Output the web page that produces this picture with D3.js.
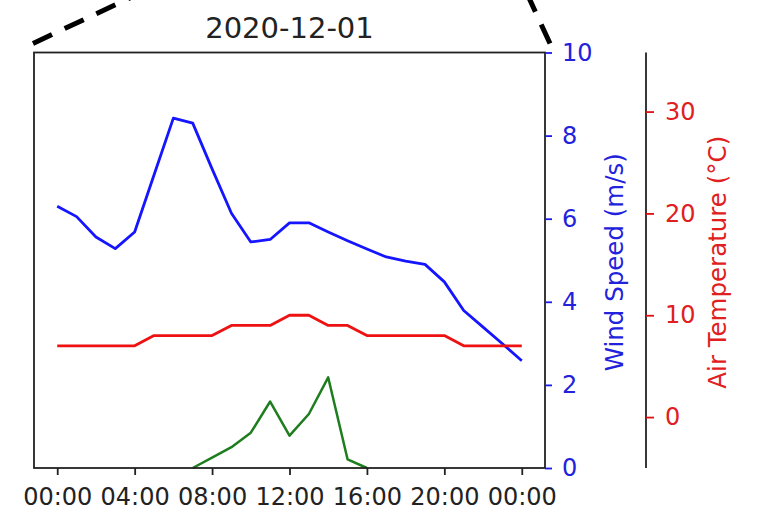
<!DOCTYPE html>
<html>
<head>
<meta charset="utf-8">
<script src="https://cdn.jsdelivr.net/npm/d3@7"></script>
<style>
  html, body { margin: 0; padding: 0; background: #fff; }
  svg { display: block; font-family: "DejaVu Sans", sans-serif; }
</style>
</head>
<body>
<svg id="chart" width="781" height="519"></svg>
<script>
// ---- data ----
const title = "2020-12-01";
const hours = [0,1,2,3,4,5,6,7,8,9,10,11,12,13,14,15,16,17,18,19,20,21,22,23,24];
const windSpeed = [6.3, 6.05, 5.56, 5.28, 5.68, 7.05, 8.42, 8.3, 7.2, 6.13, 5.44, 5.5, 5.9, 5.9, 5.68, 5.47, 5.27, 5.08, 4.98, 4.9, 4.48, 3.79, 3.39, 2.99, 2.58];
const airTemp = [7, 7, 7, 7, 7, 8, 8, 8, 8, 9, 9, 9, 10, 10, 9, 9, 8, 8, 8, 8, 8, 7, 7, 7, 7];
const greenSeries = [null, null, null, null, null, null, null, 0, 0.25, 0.5, 0.85, 1.6, 0.78, 1.3, 2.18, 0.21, 0, null, null, null, null, null, null, null, null];
const xTickHours = [0, 4, 8, 12, 16, 20, 24];
const windTicks = [0, 2, 4, 6, 8, 10];
const tempTicks = [0, 10, 20, 30];
const windLabel = "Wind Speed (m/s)";
const tempLabel = "Air Temperature (°C)";

// ---- layout ----
const svg = d3.select("#chart");
const plot = { left: 34, right: 545, top: 52.5, bottom: 468 };
const tempAxisX = 646;
const day0 = new Date(2020, 11, 1, 0, 0);
const toDate = h => new Date(day0.getTime() + h * 3600e3);
const pad = 1.2; // hours of margin (5%)

const x = d3.scaleTime().domain([toDate(-pad), toDate(24 + pad)]).range([plot.left, plot.right]);
const yWind = d3.scaleLinear().domain([0, 10]).range([plot.bottom, plot.top]);
const yTemp = d3.scaleLinear().domain([-5, 35.8]).range([plot.bottom, plot.top]);

const FONT = 24;

// connector dashed lines (from parent figure zoom)
const dashStyle = g => g.attr("stroke", "#000").attr("stroke-width", 5).attr("stroke-dasharray", "21,14").attr("fill", "none");
svg.append("line").attr("x1", plot.left - 1).attr("y1", plot.top - 9).attr("x2", plot.left + 100).attr("y2", plot.top - 9 - 47.5).call(dashStyle);
svg.append("line").attr("x1", plot.right + 5).attr("y1", plot.top - 9).attr("x2", plot.right - 16).attr("y2", plot.top - 9 - 45.6).call(dashStyle);

// lines
const lineWind = d3.line().x((d, i) => x(toDate(hours[i]))).y(d => yWind(d));
const lineTemp = d3.line().x((d, i) => x(toDate(hours[i]))).y(d => yTemp(d));
const lineGreen = d3.line().defined(d => d !== null).x((d, i) => x(toDate(hours[i]))).y(d => yWind(d));

svg.append("path").datum(windSpeed).attr("d", lineWind).attr("fill", "none").attr("stroke", "#1515ff").attr("stroke-width", 2.8).attr("stroke-linejoin", "round");
svg.append("path").datum(airTemp).attr("d", lineTemp).attr("fill", "none").attr("stroke", "#ee1111").attr("stroke-width", 2.8).attr("stroke-linejoin", "round");
svg.append("path").datum(greenSeries).attr("d", lineGreen).attr("fill", "none").attr("stroke", "#1e7d1e").attr("stroke-width", 2.5).attr("stroke-linejoin", "round");

// spines
const spine = "#222";
svg.append("rect").attr("x", plot.left).attr("y", plot.top).attr("width", plot.right - plot.left).attr("height", plot.bottom - plot.top)
  .attr("fill", "none").attr("stroke", spine).attr("stroke-width", 1.8);

// x axis
const xAxis = svg.append("g").attr("transform", `translate(0,${plot.bottom})`)
  .call(d3.axisBottom(x).tickValues(xTickHours.map(toDate)).tickFormat(d3.timeFormat("%H:%M")).tickSize(7).tickPadding(13));
xAxis.select(".domain").remove();
xAxis.selectAll(".tick line").attr("stroke", spine).attr("stroke-width", 1.8);
xAxis.selectAll(".tick text").attr("fill", "#222").style("font-size", FONT + "px").style("font-family", "DejaVu Sans").attr("dy", "0.71em");

// wind axis (right of plot)
const wAxis = svg.append("g").attr("transform", `translate(${plot.right},0)`)
  .call(d3.axisRight(yWind).tickValues(windTicks).tickFormat(d3.format("d")).tickSize(7).tickPadding(10));
wAxis.select(".domain").remove();
wAxis.selectAll(".tick line").attr("stroke", "#1a1aee").attr("stroke-width", 1.8);
wAxis.selectAll(".tick text").attr("fill", "#2222dd").style("font-size", FONT + "px").style("font-family", "DejaVu Sans");

// temperature axis (offset)
const tAxis = svg.append("g").attr("transform", `translate(${tempAxisX},0)`)
  .call(d3.axisRight(yTemp).tickValues(tempTicks).tickFormat(d3.format("d")).tickSize(8).tickPadding(11));
tAxis.select(".domain").attr("stroke", spine).attr("stroke-width", 1.8).attr("d", `M0,${plot.top}V${plot.bottom}`);
tAxis.selectAll(".tick line").attr("stroke", "#dd1111").attr("stroke-width", 1.8);
tAxis.selectAll(".tick text").attr("fill", "#e02020").style("font-size", FONT + "px").style("font-family", "DejaVu Sans");

// axis labels
const midY = (plot.top + plot.bottom) / 2 + 2;
svg.append("text").attr("transform", `translate(623,${midY}) rotate(-90)`).attr("text-anchor", "middle")
  .attr("fill", "#2222dd").style("font-size", "24.5px").text(windLabel);
svg.append("text").attr("transform", `translate(726,${midY}) rotate(-90)`).attr("text-anchor", "middle")
  .attr("fill", "#e02020").style("font-size", "24.5px").text(tempLabel);

// title
svg.append("text").attr("x", (plot.left + plot.right) / 2).attr("y", 38).attr("text-anchor", "middle")
  .attr("fill", "#222").style("font-size", "29px").text(title);
</script>
</body>
</html>
